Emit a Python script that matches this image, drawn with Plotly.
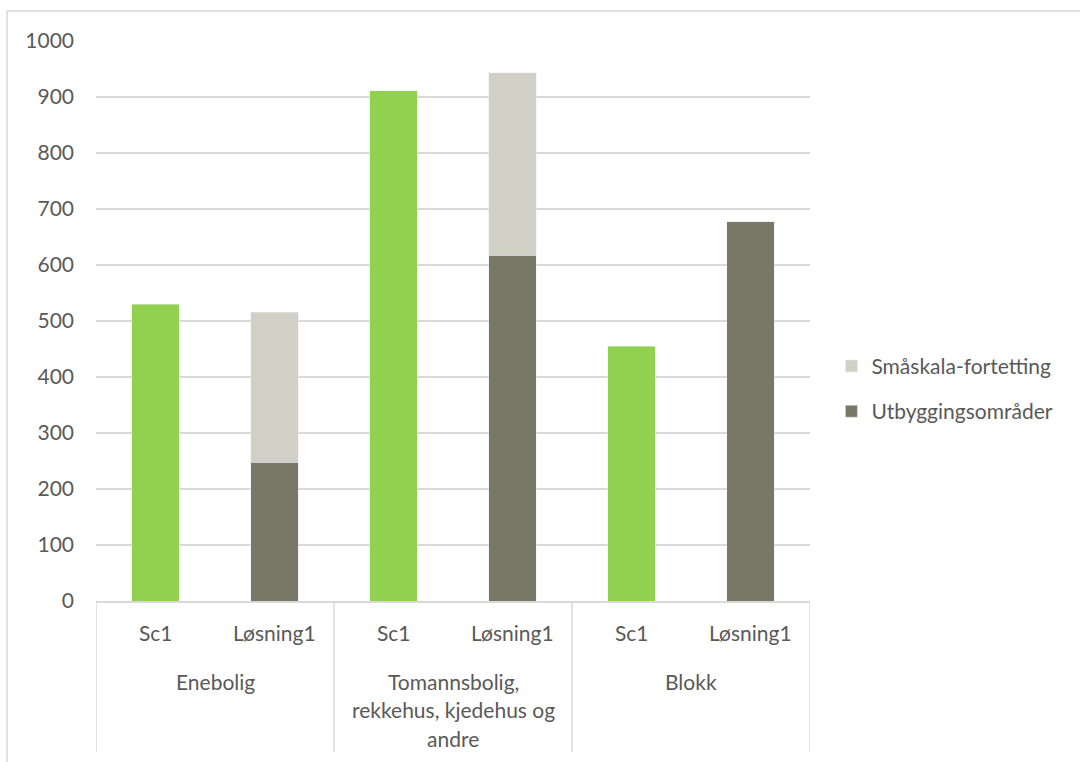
import plotly.graph_objects as go

# Housing types (outer category) and scenarios (inner category)
groups = ["Enebolig", "Tomannsbolig,\nrekkehus, kjedehus og\nandre", "Blokk"]
scenarios = ["Sc1", "Løsning1"]

# Dwelling counts
sc1_values = [530, 911, 455]
utbygging_values = [248, 617, 677]
smaskala_values = [268, 326, 0]

GREEN = "#92D050"
DARK = "#797866"
LIGHT = "#D0D0C7"
GRID = "#D9D9D9"
TEXT = "#595959"
FONT = "Lato"
FS = 21

# slot index for each (group, scenario) pair
sc1_x = [2 * g for g in range(len(groups))]
los_x = [2 * g + 1 for g in range(len(groups))]

fig = go.Figure()
fig.add_trace(go.Bar(x=sc1_x, y=sc1_values, marker_color=GREEN, width=0.4,
                     showlegend=False, name="Sc1"))
fig.add_trace(go.Bar(x=los_x, y=utbygging_values, marker_color=DARK, width=0.4,
                     name="Utbyggingsområder", legendgroup="u", legendrank=2))
fig.add_trace(go.Bar(x=los_x, y=smaskala_values, marker_color=LIGHT, width=0.4,
                     name="Småskala-fortetting", legendgroup="s", legendrank=1))

annotations = []
# inner category labels
for g in range(len(groups)):
    for s, name in enumerate(scenarios):
        annotations.append(dict(x=2 * g + s, y=0, xref="x", yref="paper", text=name,
                                showarrow=False, yanchor="middle", yshift=-31,
                                font=dict(family=FONT, size=FS, color=TEXT)))
# outer category labels, one annotation per line
for g, label in enumerate(groups):
    for k, line in enumerate(label.split("\n")):
        annotations.append(dict(x=2 * g + 0.5, y=0, xref="x", yref="paper", text=line,
                                showarrow=False, yanchor="middle", yshift=-80 - 28.5 * k,
                                font=dict(family=FONT, size=FS, color=TEXT)))

shapes = []
# dividers between the outer categories
for xd in [-0.5, 1.5, 3.5, 5.5]:
    shapes.append(dict(type="line", xref="x", yref="paper", x0=xd, x1=xd, y0=0, y1=-0.27,
                       line=dict(color=GRID, width=1.5)))
# chart area border
shapes.append(dict(type="rect", xref="paper", yref="paper", x0=-0.1246, x1=1.4,
                   y0=-0.32, y1=1.0536, line=dict(color=GRID, width=1.5),
                   fillcolor="rgba(0,0,0,0)", layer="below"))

fig.update_layout(
    width=1080, height=762,
    margin=dict(l=96, r=270, t=41, b=161),
    paper_bgcolor="white", plot_bgcolor="white",
    barmode="stack",
    font=dict(family=FONT, size=FS, color=TEXT),
    xaxis=dict(range=[-0.5, 5.5], showticklabels=False, showgrid=False, zeroline=False,
               showline=True, linecolor=GRID, linewidth=1.5, ticks=""),
    yaxis=dict(range=[0, 1000], dtick=100, showgrid=True, gridcolor=GRID, gridwidth=1.6,
               zeroline=False, showline=False, ticks="", ticklabelstandoff=21,
               tickfont=dict(family=FONT, size=FS, color=TEXT)),
    legend=dict(x=1.03, xanchor="left", y=0.379, yanchor="middle",
                traceorder="grouped", tracegroupgap=15,
                font=dict(family=FONT, size=FS, color=TEXT),
                bgcolor="rgba(0,0,0,0)"),
    annotations=annotations,
    shapes=shapes,
)

fig.write_html("out.html")
